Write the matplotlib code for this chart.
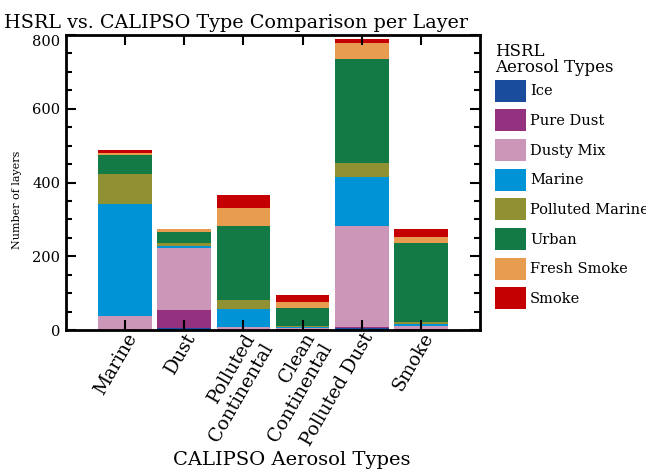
import matplotlib

matplotlib.use("Agg")
import matplotlib.pyplot as plt
import numpy as np

plt.rcParams["font.family"] = ["DejaVu Serif"]

categories = ["Marine", "Dust", "Polluted\nContinental", "Clean\nContinental", "Polluted Dust", "Smoke"]

hsrl_types = ["Ice", "Pure Dust", "Dusty Mix", "Marine", "Polluted Marine", "Urban", "Fresh Smoke", "Smoke"]
hsrl_colors = ["#1a4c9e", "#94327f", "#cc96b8", "#0093d6", "#8f9133", "#137a45", "#e89c50", "#c40000"]

ice = [0, 5, 1, 1, 5, 1]
pure_dust = [0, 48, 0, 1, 3, 1]
dusty_mix = [37, 169, 6, 4, 274, 10]
marine = [306, 7, 50, 3, 134, 3]
polluted_marine = [80, 7, 24, 2, 37, 6]
urban = [52, 30, 200, 50, 282, 215]
fresh_smoke = [6, 7, 51, 15, 44, 16]
smoke = [7, 1, 35, 20, 11, 21]

counts = [ice, pure_dust, dusty_mix, marine, polluted_marine, urban, fresh_smoke, smoke]

W, H = 646, 472
fig = plt.figure(figsize=(W / 100, H / 100), dpi=100)
ax = fig.add_axes([66 / W, 1 - 330 / H, 414 / W, 295 / H])

x = np.arange(len(categories))
bottom = np.zeros(len(categories))
for name, col, vals in zip(hsrl_types, hsrl_colors, counts):
    vals = np.asarray(vals, dtype=float)
    ax.bar(x, vals, width=0.91, bottom=bottom, color=col, label=name, linewidth=0)
    bottom += vals

ax.set_xlim(-1, 6)
ax.set_ylim(0, 800)
ax.set_xticks(x)
ax.set_xticklabels(categories, rotation=60, ha="right", rotation_mode="anchor", fontsize=13.5)
ax.set_yticks([0, 200, 400, 600, 800])
ax.set_yticks(np.arange(0, 801, 50), minor=True)
ax.tick_params(axis="y", labelsize=10.5, pad=4)
ax.tick_params(axis="x", pad=0)
ax.tick_params(which="both", direction="in", top=True, right=True, width=1.5)
ax.tick_params(which="major", length=7)
ax.tick_params(which="minor", length=4)
ax.tick_params(axis="x", which="minor", top=False, bottom=False)
for s in ax.spines.values():
    s.set_linewidth(2)
# top label sits just below the axis corner, as in the original
ax.yaxis.get_major_ticks()[-1].label1.set_va("top")

ax.set_ylabel("Number of layers", fontsize=8)
ax.yaxis.set_label_coords(-0.106, 0.44)
ax.set_xlabel("CALIPSO Aerosol Types", fontsize=14)
ax.xaxis.set_label_coords(0.546, -0.41)

fig.text(4 / W, 1 - 28 / H, "HSRL vs. CALIPSO Type Comparison per Layer", fontsize=13.8, va="baseline")

# legend heading, lines set tight like the original (baseline = last line)
fig.text(495 / W, 1 - 71.7 / H, "HSRL\nAerosol Types", fontsize=12, va="baseline", linespacing=0.87)

fig.legend(
    loc="upper left",
    bbox_to_anchor=(482 / W, 1 - 66.5 / H),
    frameon=False,
    fontsize=10.5,
    handlelength=2.12,
    handleheight=1.94,
    handletextpad=0.27,
    labelspacing=0.53,
)

fig.savefig("out.png", dpi=100)
